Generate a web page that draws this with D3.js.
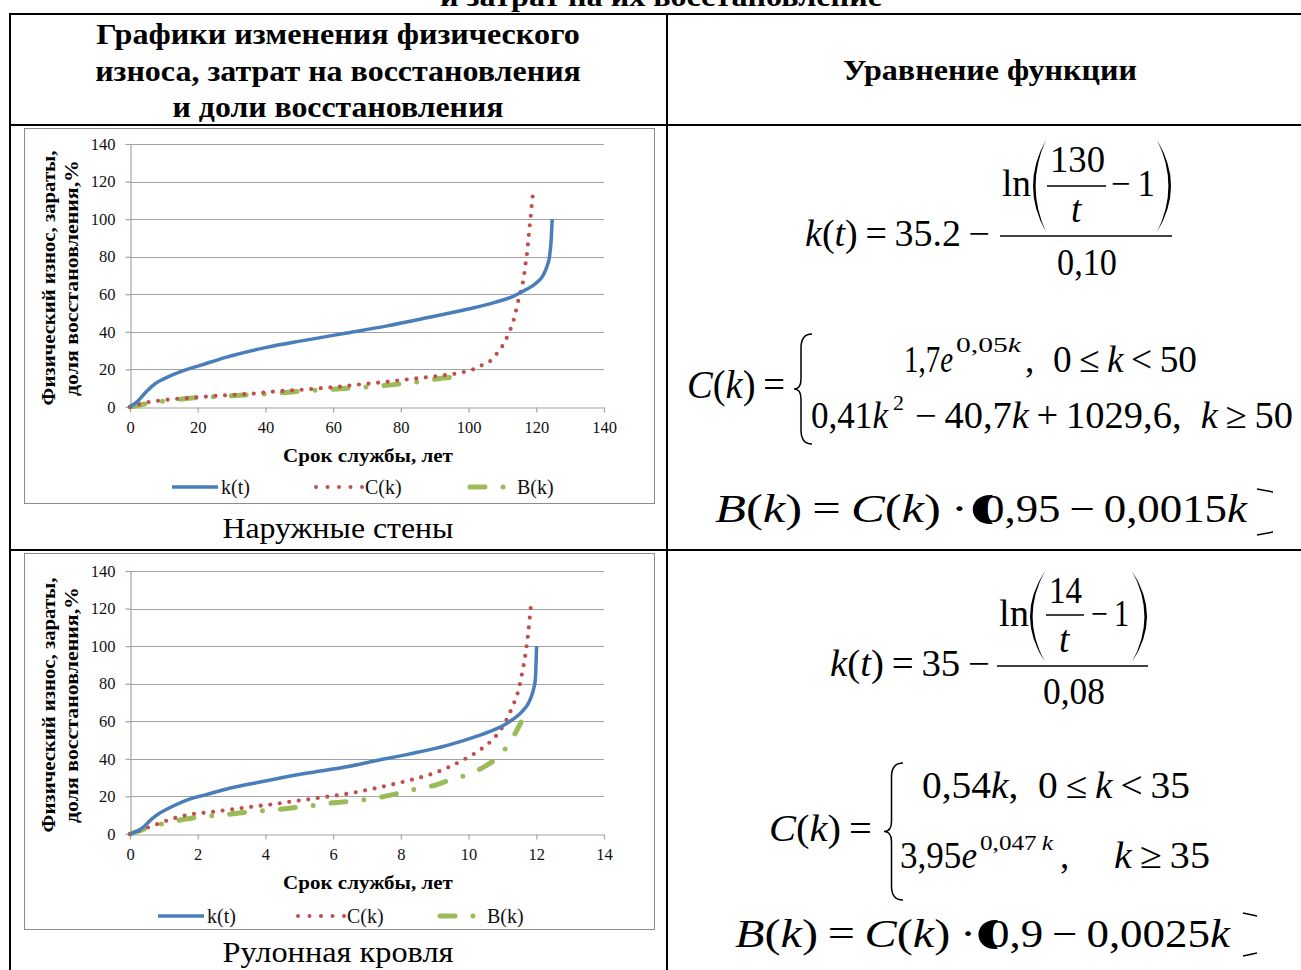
<!DOCTYPE html>
<html>
<head>
<meta charset="utf-8">
<script src="https://cdn.jsdelivr.net/npm/d3@7"></script>
<style>
  html, body { margin: 0; padding: 0; background: #ffffff; }
  svg { display: block; }
</style>
</head>
<body>
<svg id="page" width="1301" height="970"></svg>
<script>
// ---- Наружные стены ----
// физический износ k(t), %
const wallYears = [0, 2.5, 5, 7.5, 10, 16, 21, 28, 40, 52, 64, 76, 88, 100, 108, 113, 117, 120, 122, 123.2, 123.9, 124.4, 124.7];
const wallWear  = [0, 3.5, 8.5, 12.5, 15, 19.5, 22.3, 26.3, 31.6, 35.6, 39.4, 43.2, 47.6, 52.2, 55.8, 58.8, 62.5, 66, 70, 75, 80, 89, 100];
// затраты на восстановление C(k), %
const wallCostYears = [0, 6, 9.3, 12.3, 18.3, 24.5, 30.7, 36.9, 43, 49.3, 55.6, 61.6, 67.8, 74.1, 80, 86, 92.2, 98.3, 101.3, 104.3, 106.9, 108.7, 110.5, 111.8, 112.9, 113.8, 114.5, 115.3, 116, 116.5, 116.9, 117.3, 117.6, 117.9, 118.2, 118.5, 118.8, 119.2];
const wallCost      = [0, 2.8, 3.5, 4.1, 4.9, 5.8, 6.5, 7.2, 8.3, 9, 9.9, 10.8, 12, 13.1, 14.3, 15.5, 16.8, 18.5, 20, 22.6, 25.2, 29.3, 34, 39, 44, 49.6, 55.3, 60.6, 66, 71.5, 77, 82.4, 88, 93.6, 98.9, 104.3, 110, 115.6];
// доля восстановления B(k), %
const wallShareYears = [0, 4, 8, 12, 16, 20, 25, 30, 35, 40, 45, 50, 55, 60, 65, 70, 75, 80, 85, 90, 96];
const wallShare      = [0, 1.5, 2.8, 3.5, 4.4, 5, 5.5, 6, 6.5, 7, 7.6, 8.3, 8.9, 9.4, 10, 10.7, 11.4, 12.3, 13.4, 14.8, 16];

// ---- Рулонная кровля ----
const roofYears = [0, 0.38, 0.63, 0.87, 1.23, 1.83, 2.2, 2.8, 4, 5.2, 6.4, 7.25, 8.2, 9.4, 10.25, 10.85, 11.2, 11.57, 11.79, 11.91, 11.97, 12.01];
const roofWear  = [0, 3.4, 7.8, 11, 14.5, 19, 20.7, 23.7, 28.2, 32.3, 35.8, 39, 42.4, 47.3, 52.1, 56.2, 59.7, 65, 70.4, 76.5, 82, 100];
const roofCostYears = [0, 0.6, 1.2, 1.8, 2.4, 3, 3.6, 4.2, 4.8, 5.4, 6, 6.6, 7.2, 7.8, 8.4, 9, 9.4, 9.9, 10.4, 10.8, 11.1, 11.3, 11.45, 11.57, 11.68, 11.76, 11.85];
const roofCost      = [0, 3.9, 7.8, 10.5, 11.7, 13.1, 14.5, 15.8, 17.4, 18.8, 20.3, 22, 24.2, 26.6, 29.3, 32.5, 35.5, 40, 45.6, 52, 60, 68, 75, 84.5, 95.7, 106.7, 123.5];
const roofShareYears = [0, 0.5, 1, 1.6, 2.1, 2.7, 3.3, 3.8, 4.4, 5, 5.5, 6.1, 6.7, 7.2, 7.8, 8.3, 8.9, 9.4, 10, 10.5, 10.95, 11.27, 11.55];
const roofShare      = [0, 3, 5.7, 7.8, 9.2, 10.1, 11.3, 12.2, 13.1, 14.4, 15.4, 16.8, 17.7, 19, 21.1, 23.4, 25.5, 28.4, 31.9, 36.2, 42.4, 50.3, 59.5];

// ---- оси и подписи ----
const wallTicks = [0, 20, 40, 60, 80, 100, 120, 140];
const roofTicks = [0, 2, 4, 6, 8, 10, 12, 14];
const valueTicks = [0, 20, 40, 60, 80, 100, 120, 140];
const seriesNames = ["k(t)", "C(k)", "B(k)"];
const yTitleLines = ["Физический износ, зараты,", "доля восстановления,%"];
const xTitle = "Срок службы, лет";
const captions = ["Наружные стены", "Рулонная кровля"];
const headerLeft = ["Графики изменения физического", "износа, затрат на восстановления", "и доли восстановления"];
const headerRight = "Уравнение функции";
const tableTitleTail = "и затрат на их восстановление";

const SERIF = "'Liberation Serif', 'Times New Roman', serif";
const svg = d3.select("#page");

const colors = { k: "#4a7ebb", c: "#c0504d", b: "#9bbb59" };

function zip(xs, ys) { return xs.map((x, i) => [x, ys[i]]); }

// text run centred on (cx, y), widened or narrowed to the given width
function label(parent, cx, y, s, size, weight, width, rot) {
  const t = parent.append("text").attr("x", 0).attr("y", 0).attr("text-anchor", "middle")
    .attr("font-family", SERIF).attr("font-size", size).attr("font-weight", weight || "normal")
    .attr("fill", "#000").text(s);
  let sx = 1;
  if (width) {
    const w = t.node().getComputedTextLength();
    if (w > 0) sx = width / w;
  }
  t.attr("transform", `translate(${cx},${y})${rot ? " rotate(-90)" : ""} scale(${sx},1)`);
  return t;
}

// ---- table grid ----
const grid = svg.append("g").attr("stroke", "#000").attr("stroke-width", 2).attr("fill", "none");
grid.append("path").attr("d", "M10,14 H1301");
grid.append("path").attr("d", "M10,13 V970");
grid.append("path").attr("d", "M667,13 V970");
grid.append("path").attr("d", "M10,125 H1301");
grid.append("path").attr("d", "M10,550 H1301");

// ---- header texts ----
label(svg, 661, 6, tableTitleTail, 30, "bold", 442);
const headerWidths = [484, 486, 331];
headerLeft.forEach((s, i) => label(svg, 338, 44 + i * 36.5, s, 30, "bold", headerWidths[i]));
label(svg, 990, 80, headerRight, 30, "bold", 294);

// ---- charts ----
function drawChart(cfg) {
  const g = svg.append("g");
  g.append("rect").attr("x", cfg.frame[0] + 0.5).attr("y", cfg.frame[1] + 0.5)
    .attr("width", cfg.frame[2] - cfg.frame[0]).attr("height", cfg.frame[3] - cfg.frame[1])
    .attr("fill", "#fff").attr("stroke", "#8c8c8c").attr("stroke-width", 1);

  const x = d3.scaleLinear().domain([0, cfg.xMax]).range([130, 604]);
  const y = d3.scaleLinear().domain([0, 140]).range([cfg.y0, cfg.y0 - 263]);

  // horizontal gridlines
  g.append("g").selectAll("line").data(valueTicks.slice(1)).join("line")
    .attr("x1", 130).attr("x2", 604)
    .attr("y1", d => Math.round(y(d)) + 0.5).attr("y2", d => Math.round(y(d)) + 0.5)
    .attr("stroke", "#a3a3a3").attr("stroke-width", 1.2);

  const yAxis = g.append("g").attr("transform", "translate(130.5,0)")
    .call(d3.axisLeft(y).tickValues(valueTicks).tickSize(5).tickPadding(10).tickSizeOuter(0));
  const xAxis = g.append("g").attr("transform", `translate(0,${Math.round(cfg.y0) + 0.5})`)
    .call(d3.axisBottom(x).tickValues(cfg.xTicks).tickSize(5).tickPadding(9).tickSizeOuter(0));
  [yAxis, xAxis].forEach(a => {
    a.select(".domain").attr("stroke", "#a3a3a3").attr("stroke-width", 1.2);
    a.selectAll(".tick line").attr("stroke", "#a3a3a3").attr("stroke-width", 1.2);
    a.selectAll(".tick text").attr("font-family", SERIF).attr("font-size", 16.5).attr("fill", "#111");
  });

  const line = d3.line().x(d => x(d[0])).y(d => y(d[1])).curve(d3.curveMonotoneX);

  g.append("path").datum(zip(cfg.shareX, cfg.share)).attr("d", line)
    .attr("fill", "none").attr("stroke", colors.b).attr("stroke-width", 5)
    .attr("stroke-linecap", "round").attr("stroke-dasharray", "15 18 0 18");
  g.append("path").datum(zip(cfg.costX, cfg.cost)).attr("d", line)
    .attr("fill", "none").attr("stroke", colors.c).attr("stroke-width", 4.2)
    .attr("stroke-linecap", "round").attr("stroke-dasharray", "0 9.6");
  g.append("path").datum(zip(cfg.wearX, cfg.wear)).attr("d", line)
    .attr("fill", "none").attr("stroke", colors.k).attr("stroke-width", 3.5)
    .attr("stroke-linejoin", "round");

  // axis titles
  const yTitleWidths = [255, 236];
  yTitleLines.forEach((s, i) => {
    label(g, 55 + i * 23, cfg.y0 - 129, s, 18, "bold", yTitleWidths[i], true);
  });
  label(g, 368, cfg.y0 + 55, xTitle, 19, "bold", 170);

  // legend
  const ly = cfg.legendY;
  const L = cfg.legend;
  g.append("line").attr("x1", L[0]).attr("x2", L[0] + 46).attr("y1", ly).attr("y2", ly)
    .attr("stroke", colors.k).attr("stroke-width", 3.5);
  g.append("line").attr("x1", L[1]).attr("x2", L[1] + 47).attr("y1", ly).attr("y2", ly)
    .attr("stroke", colors.c).attr("stroke-width", 4).attr("stroke-linecap", "round")
    .attr("stroke-dasharray", "0 11.5");
  g.append("line").attr("x1", L[2] + 3).attr("x2", L[2] + 40).attr("y1", ly).attr("y2", ly)
    .attr("stroke", colors.b).attr("stroke-width", 5).attr("stroke-linecap", "round")
    .attr("stroke-dasharray", "15 18 0 18");
  const textX = [L[0] + 49, L[1] + 49, L[2] + 50];
  seriesNames.forEach((s, i) => {
    g.append("text").attr("x", textX[i]).attr("y", ly + 7).attr("font-family", SERIF)
      .attr("font-size", 20).attr("fill", "#111").text(s);
  });

  // caption under the chart
  label(svg, 338, cfg.captionY, cfg.caption, 30, "normal", 231);
}

drawChart({
  frame: [24, 128, 654, 503], xMax: 140, xTicks: wallTicks, y0: 407,
  wearX: wallYears, wear: wallWear, costX: wallCostYears, cost: wallCost,
  shareX: wallShareYears, share: wallShare,
  legendY: 487, legend: [172, 316, 467], captionY: 538, caption: captions[0]
});
drawChart({
  frame: [24, 553, 654, 929], xMax: 14, xTicks: roofTicks, y0: 834,
  wearX: roofYears, wear: roofWear, costX: roofCostYears, cost: roofCost,
  shareX: roofShareYears, share: roofShare,
  legendY: 916, legend: [158, 298, 437], captionY: 962, caption: captions[1]
});

// ---- formulas ----
const fg = svg.append("g").attr("fill", "#000");

// a run of formula text, stretched to a given width
function piece(x0, x1, base, size, parts) {
  const t = fg.append("text").attr("font-family", SERIF).attr("font-size", size)
    .attr("x", 0).attr("y", 0);
  parts.forEach(([s, st]) => {
    const ts = t.append("tspan").text(s);
    if (st === "i") ts.attr("font-style", "italic");
  });
  let sx = 1;
  if (x1 != null) {
    const w = t.node().getComputedTextLength();
    if (w > 0) sx = (x1 - x0) / w;
  }
  t.attr("transform", `translate(${x0},${base}) scale(${sx},1)`);
}
function bar(x0, x1, yy) {
  fg.append("line").attr("x1", x0).attr("x2", x1).attr("y1", yy).attr("y2", yy)
    .attr("stroke", "#000").attr("stroke-width", 1.4);
}
function paren(xa, xb, y0, y1, side) {
  const m = (y0 + y1) / 2;
  if (side === "L") {
    const c1 = 2 * xa - xb, c2 = 2 * (xa + 2.6) - xb;
    fg.append("path").attr("d", `M${xb},${y0} Q${c1},${m} ${xb},${y1} Q${c2},${m} ${xb},${y0} Z`);
  } else {
    const c1 = 2 * xb - xa, c2 = 2 * (xb - 2.6) - xa;
    fg.append("path").attr("d", `M${xa},${y0} Q${c1},${m} ${xa},${y1} Q${c2},${m} ${xa},${y0} Z`);
  }
}
function brace(xa, xb, y0, y1) {
  const m = (y0 + y1) / 2, xm = (xa + xb) / 2 - 2;
  fg.append("path")
    .attr("d", `M${xb},${y0} Q${xm},${y0} ${xm},${y0 + 14} L${xm},${m - 10} Q${xm},${m} ${xa},${m} Q${xm},${m} ${xm},${m + 10} L${xm},${y1 - 14} Q${xm},${y1} ${xb},${y1}`)
    .attr("fill", "none").attr("stroke", "#000").attr("stroke-width", 1.5);
}
function blob(xl, xr, y0, y1) {
  const xi = xr - 8;
  fg.append("path").attr("d", `M${xr},${y0} C${xl - 5},${y0 - 2} ${xl - 5},${y1 + 2} ${xr},${y1} C${xi},${y1 - 7} ${xi},${y0 + 7} ${xr},${y0} Z`);
}
function closing(xa, xb, yt, yb) {
  fg.append("path").attr("d", `M${xa},${yt} L${xb},${yt + 3} M${xa},${yb} L${xb},${yb - 3}`)
    .attr("stroke", "#000").attr("stroke-width", 1.4).attr("fill", "none");
}
const T = "\u2009", E = "\u2002";

// Наружные стены: k(t)
piece(805, 990, 246, 37, [["k", "i"], ["(", "n"], ["t", "i"], [")", "n"], [T + "=" + T + "35.2" + T + "\u2212", "n"]]);
piece(1002, 1031, 196, 38, [["ln", "n"]]);
paren(1033, 1046, 140, 232, "L");
piece(1050, 1105, 172, 37, [["130", "n"]]);
bar(1047, 1106, 186);
piece(1071, null, 222, 37, [["t", "i"]]);
piece(1111, 1155, 196, 37, [["\u2212" + T + "1", "n"]]);
paren(1157, 1171, 140, 232, "R");
bar(1000, 1172, 236);
piece(1057, 1117, 275, 37, [["0,10", "n"]]);

// Наружные стены: C(k)
piece(687, 785, 398, 39, [["C", "i"], ["(", "n"], ["k", "i"], [")", "n"], [T + "=", "n"]]);
brace(794, 812, 334, 444);
piece(904, 953, 372, 37, [["1,7", "n"], ["e", "i"]]);
piece(956, 1021, 352, 22, [["0,05", "n"], ["k", "i"]]);
piece(1025, 1197, 372, 37, [["," + E + "0" + T + "\u2264" + T, "n"], ["k", "i"], [T + "<" + T + "50", "n"]]);
piece(811, 888, 428, 37, [["0,41", "n"], ["k", "i"]]);
piece(893, null, 410, 22, [["2", "n"]]);
piece(915, 1293, 428, 37, [["\u2212" + T + "40,7", "n"], ["k", "i"], [T + "+" + T + "1029,6," + E, "n"], ["k", "i"], [T + "\u2265" + T + "50", "n"]]);

// Наружные стены: B(k)
piece(715, 968, 522, 40, [["B", "i"], ["(", "n"], ["k", "i"], [")", "n"], [T + "=" + T, "n"], ["C", "i"], ["(", "n"], ["k", "i"], [")" + T + "\u00b7", "n"]]);
piece(982, 1247, 522, 40, [["0,95" + T + "\u2212" + T + "0,0015", "n"], ["k", "i"]]);
blob(971, 993, 495, 524);
closing(1257, 1273, 489, 535);

// Рулонная кровля: k(t)
piece(830, 990, 676, 37, [["k", "i"], ["(", "n"], ["t", "i"], [")", "n"], [T + "=" + T + "35" + T + "\u2212", "n"]]);
piece(999, 1029, 626, 38, [["ln", "n"]]);
paren(1030, 1045, 571, 662, "L");
piece(1049, 1082, 603, 37, [["14", "n"]]);
bar(1046, 1084, 615);
piece(1059, null, 652, 37, [["t", "i"]]);
piece(1091, 1129, 626, 37, [["\u2212" + T + "1", "n"]]);
paren(1132, 1147, 571, 662, "R");
bar(997, 1148, 666);
piece(1043, 1105, 704, 37, [["0,08", "n"]]);

// Рулонная кровля: C(k)
piece(769, 872, 841, 39, [["C", "i"], ["(", "n"], ["k", "i"], [")", "n"], [T + "=", "n"]]);
brace(884, 903, 763, 900);
piece(922, 1190, 798, 37, [["0,54", "n"], ["k", "i"], ["," + E + "0" + T + "\u2264" + T, "n"], ["k", "i"], [T + "<" + T + "35", "n"]]);
piece(900, 977, 868, 37, [["3,95", "n"], ["e", "i"]]);
piece(980, 1053, 850, 22, [["0,047" + T, "n"], ["k", "i"]]);
piece(1060, null, 868, 37, [[",", "n"]]);
piece(1114, 1210, 868, 37, [["k", "i"], [T + "\u2265" + T + "35", "n"]]);

// Рулонная кровля: B(k)
piece(735, 976, 947, 40, [["B", "i"], ["(", "n"], ["k", "i"], [")", "n"], [T + "=" + T, "n"], ["C", "i"], ["(", "n"], ["k", "i"], [")" + T + "\u00b7", "n"]]);
piece(987, 1230, 947, 40, [["0,9" + T + "\u2212" + T + "0,0025", "n"], ["k", "i"]]);
blob(977, 998, 920, 949);
closing(1243, 1257, 913, 956);
</script>
</body>
</html>
